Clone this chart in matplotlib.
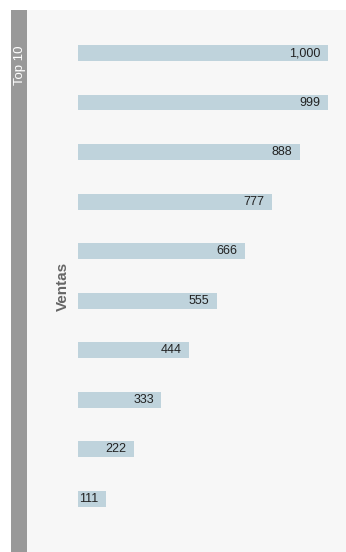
import matplotlib.pyplot as plt
from matplotlib.patches import Rectangle

plt.rcParams["font.family"] = ["Liberation Sans", "DejaVu Sans"]

# data
categories = ["1", "2", "3", "4", "5", "6", "7", "8", "9", "10"]
ventas = [1000, 999, 888, 777, 666, 555, 444, 333, 222, 111]
labels = ["1,000", "999", "888", "777", "666", "555", "444", "333", "222", "111"]

W, H = 346, 552
fig = plt.figure(figsize=(W / 100, H / 100), dpi=100)
fig.patch.set_facecolor("white")

# grey strip on the left with the facet title
fig.patches.append(Rectangle((11 / W, 0), 16 / W, (H - 10) / H,
                             transform=fig.transFigure, facecolor="#999999",
                             edgecolor="none", zorder=0))
fig.text(19.5 / W, 1 - 65 / H, "Top 10", rotation=90, ha="center", va="center",
         color="white", fontsize=9.5)

ax = fig.add_axes([27 / W, 0, 1 - 27 / W, (H - 10) / H])
ax.set_facecolor("#f7f7f7")

pos = list(range(len(categories)))
ax.barh(pos, ventas, height=0.32, color="#bfd3dc", edgecolor="none")
for p, v, lab in zip(pos, ventas, labels):
    ax.text(v - 30, p, lab, ha="right", va="center", fontsize=9, color="#222222")

ax.set_xlim(-204, 1072)
ax.set_ylim(10.07, -0.868)
for s in ax.spines.values():
    s.set_visible(False)
ax.set_xticks([])
ax.set_yticks([])

fig.text(63 / W, 1 - 286 / H, "Ventas", rotation=90, ha="center", va="center",
         color="#666666", fontsize=11, fontweight="bold")

fig.savefig("out.png", dpi=100)
